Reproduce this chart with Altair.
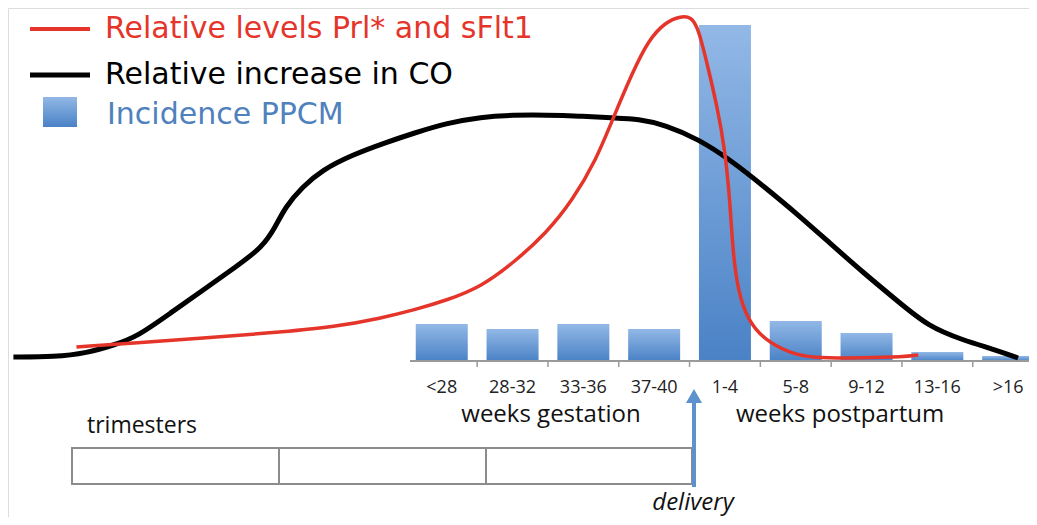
import altair as alt
import pandas as pd

# ---- data (x in category-index units: 0 = "<28", 8 = ">16"; y = relative level above baseline)
categories = ["<28", "28-32", "33-36", "37-40", "1-4", "5-8", "9-12", "13-16", ">16"]
incidence = [37, 32, 37, 32, 336, 40, 28, 9, 5]

co_x = [-6.05, -5.47, -5.01, -4.63, -4.31, -3.83, -3.37, -2.91, -2.53, -2.35, -2.21, -1.97,
        -1.69, -1.27, -0.81, -0.39, 0.08, 0.55, 1.01, 1.48, 1.94, 2.41, 2.78, 3.16, 3.62,
        4.08, 4.56, 5.02, 5.48, 5.96, 6.42, 6.88, 7.36, 7.82, 8.14]
co_y = [4, 4, 8, 16, 24, 48, 71, 94, 114, 134, 154, 174,
        191, 206, 218, 228, 238, 244, 246, 246, 245, 243, 242, 236, 222,
        201, 174, 147, 118, 88, 61, 34, 21, 11, 3]

prl_x = [-5.16, -4.31, -3.37, -2.43, -1.51, -0.85, -0.39, 0.08, 0.55, 1.01, 1.48, 1.85,
         2.18, 2.41, 2.69, 2.92, 3.16, 3.38, 3.52, 3.62, 3.76, 3.90, 4.00, 4.07, 4.11,
         4.18, 4.32, 4.56, 4.92, 5.20, 5.96, 6.52, 6.73]
prl_y = [14, 18, 23, 28, 34, 43, 51, 61, 74, 98, 128, 161,
         201, 241, 288, 321, 339, 345, 344, 334, 294, 251, 211, 161, 111,
         71, 41, 21, 8, 3, 3, 4, 6]

FONT = "Open Sans"
LEG_FONT = "DejaVu Sans"
RED = "#e5352b"
BLUE_TXT = "#4f81bd"
W, H = 1021, 509

bars_df = pd.DataFrame({"idx": list(range(len(categories))), "cat": categories, "value": incidence})
co_df = pd.DataFrame({"x": co_x, "y": co_y})
prl_df = pd.DataFrame({"x": prl_x, "y": prl_y})

xs = alt.Scale(domain=[-6.056, 8.224], nice=False, zero=False)
ys = alt.Scale(domain=[-156, 353], nice=False, zero=False)

bar_grad = alt.Gradient(gradient="linear", x1=0, x2=0, y1=0, y2=1,
                        stops=[alt.GradientStop(color="#92b8e6", offset=0),
                               alt.GradientStop(color="#4a82c6", offset=1)])

bars = alt.Chart(bars_df).mark_bar(size=52, color=bar_grad).encode(
    x=alt.X("idx:Q", scale=xs, axis=None),
    y=alt.Y("value:Q", scale=ys, axis=None),
    y2=alt.Y2("zero:Q"),
).transform_calculate(zero="0")

ticks = alt.Chart(bars_df).transform_filter("datum.idx < 8").transform_calculate(
    b="datum.idx + 0.5", top="0", bot="-6"
).mark_rule(color="#9a9a9a", strokeWidth=1.5).encode(
    x=alt.X("b:Q", scale=xs, axis=None),
    y=alt.Y("top:Q", scale=ys, axis=None),
    y2="bot:Q",
)

baseline = alt.Chart(bars_df).mark_rule(color="#9a9a9a", strokeWidth=2).encode(
    x=alt.value(402), x2=alt.value(1021), y=alt.value(353)
).transform_filter("datum.idx == 0")

cat_labels = alt.Chart(bars_df).mark_text(font=FONT, fontSize=18, color="#222",
                                          baseline="middle").encode(
    x=alt.X("idx:Q", scale=xs, axis=None),
    y=alt.value(380),
    text="cat:N",
)

co_line = alt.Chart(co_df).mark_line(color="#000", strokeWidth=5, interpolate="basis").encode(
    x=alt.X("x:Q", scale=xs, axis=None), y=alt.Y("y:Q", scale=ys, axis=None)
)
prl_line = alt.Chart(prl_df).mark_line(color=RED, strokeWidth=3.5, interpolate="basis").encode(
    x=alt.X("x:Q", scale=xs, axis=None), y=alt.Y("y:Q", scale=ys, axis=None)
)

one = pd.DataFrame({"k": [0]})

def txt(s, x, y, size, color="#111", align="left", italic=False, baseline="alphabetic", font=FONT):
    return alt.Chart(one).mark_text(text=s, font=font, fontSize=size, color=color, align=align,
                                    baseline=baseline,
                                    fontStyle="italic" if italic else "normal").encode(
        x=alt.value(x), y=alt.value(y))

def rule(x1, x2, y1, y2, color, w):
    return alt.Chart(one).mark_rule(color=color, strokeWidth=w).encode(
        x=alt.value(x1), x2=alt.value(x2), y=alt.value(y1), y2=alt.value(y2))

layers = [bars, baseline, ticks, cat_labels, co_line, prl_line]

# legend
layers += [
    rule(22, 82, 21, 21, RED, 4),
    txt("Relative levels Prl* and sFlt1", 97, 30, 30, RED, font=LEG_FONT),
    rule(22, 82, 67, 67, "#000", 5),
    txt("Relative increase in CO", 97, 76, 30, "#000", font=LEG_FONT),
    alt.Chart(one).mark_rect(color=bar_grad).encode(
        x=alt.value(35), x2=alt.value(69), y=alt.value(89), y2=alt.value(119)),
    txt("Incidence PPCM", 99, 116, 30, BLUE_TXT, font=LEG_FONT),
]

# annotations
layers += [
    txt("weeks gestation", 543, 414, 24, align="center"),
    txt("weeks postpartum", 832, 414, 24, align="center"),
    txt("trimesters", 79, 425, 23),
    txt("delivery", 685, 502, 24, align="center", italic=True),
]
for a, b in [(64, 271), (271, 478), (478, 684)]:
    layers.append(alt.Chart(one).mark_rect(fill=None, stroke="#8c8c8c", strokeWidth=2).encode(
        x=alt.value(a), x2=alt.value(b), y=alt.value(440), y2=alt.value(476)))

layers += [
    rule(686, 686, 479, 392, "#5d92cf", 4),
    alt.Chart(one).mark_point(shape="triangle-up", filled=True, size=260, color="#5d92cf",
                              opacity=1).encode(x=alt.value(686), y=alt.value(388)),
]

chart = alt.layer(*layers).properties(
    width=W, height=H, padding=0, autosize=alt.AutoSizeParams(type="none")
).configure_view(stroke=None).configure(background="white")

chart.save("out.html", embed_options={"renderer": "svg", "actions": False})
